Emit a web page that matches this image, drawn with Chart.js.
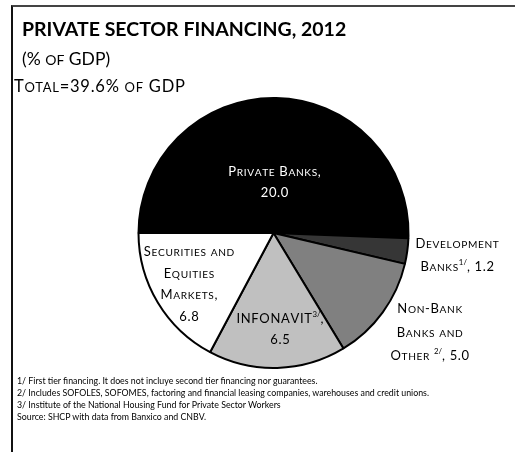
<!DOCTYPE html>
<html>
<head>
<meta charset="utf-8">
<script src="https://cdn.jsdelivr.net/npm/chart.js@4.4.0/dist/chart.umd.min.js"></script>
<style>
  body { margin: 0; background: #fff; }
  #wrap { position: relative; width: 515px; height: 452px; overflow: hidden; font-family: Lato, sans-serif; color: #000; }
  #chart { position: absolute; left: 0; top: 0; }
  .frame { position: absolute; left: 11px; top: 5px; right: 0; bottom: 0; border-top: 2px solid #444; border-left: 2px solid #111; }
  .txt { position: absolute; white-space: nowrap; line-height: 1.2; }
  .sc { font-variant: small-caps; font-size: 1.14em; line-height: 0; }
  #title { left: 22px; top: 16.5px; font-size: 19.5px; font-weight: bold; }
  #unit { left: 22px; top: 48px; font-size: 17.5px; }
  #total { left: 14px; top: 77px; font-size: 16.5px; letter-spacing: 0.75px; }
  .note { left: 17px; font-size: 8.8px; }
</style>
</head>
<body>
<div id="wrap">
  <canvas id="chart" width="515" height="452"></canvas>
  <div class="frame"></div>
  <div class="txt" id="title">PRIVATE SECTOR FINANCING, 2012</div>
  <div class="txt" id="unit">(% <span class="sc">of</span> GDP)</div>
  <div class="txt" id="total">T<span class="sc">otal</span>=39.6% <span class="sc">of</span> GDP</div>
  <div class="txt note" style="top:376px">1/ First tier financing. It does not incluye second tier financing nor guarantees.</div>
  <div class="txt note" style="top:388px">2/ Includes SOFOLES, SOFOMES, factoring and financial leasing companies, warehouses and credit unions.</div>
  <div class="txt note" style="top:400px">3/ Institute of the National Housing Fund for Private Sector Workers</div>
  <div class="txt note" style="top:412px">Source: SHCP with data from Banxico and CNBV.</div>
</div>
<script>
// Private sector financing by source, 2012 (% of GDP)
const categories = ["Private Banks", "Development Banks", "Non-Bank Banks and Other", "INFONAVIT", "Securities and Equities Markets"];
const shares = [20.0, 1.2, 5.0, 6.5, 6.8];
const sliceColors = ["#000000", "#363636", "#808080", "#c0c0c0", "#ffffff"];

// label lines per slice; {..} is a superscript note mark, %v is the value
const labelLines = [
    ["Private Banks,", "%v"],
    ["Development", "Banks{1/}, %v"],
    ["Non-Bank", "Banks and", "Other {2/}, %v"],
    ["INFONAVIT{3/},", "%v"],
    ["Securities and", "Equities", "Markets,", "%v"],
];
const labelColors = ["#fff", "#000", "#000", "#000", "#000"];
// where each label sits: fraction of the radius along the slice middle, plus a small angle nudge
const labelPlace = [
    { r: 0.38, da: 0 },
    { r: 1.37, da: -0.018 },
    { r: 1.37, da: -0.064 },
    { r: 0.71, da: -0.04 },
    { r: 0.73, da: 0 },
];

const FONT = "Lato, sans-serif";
const TRACK = 0.65;

function capsParts(line, size) {
    const parts = [];
    line.split(/(\{[^}]*\})/).filter(Boolean).forEach(seg => {
        if (seg[0] === "{") {
            parts.push({ t: seg.slice(1, -1), s: size * 0.6, dy: -size * 0.45, sp: 0 });
            return;
        }
        seg.match(/[a-z]+|[^a-z]+/g).forEach(run => {
            const low = /[a-z]/.test(run[0]);
            parts.push({ t: low ? run.toUpperCase() : run, s: low ? size * 0.78 : size, dy: 0, sp: TRACK });
        });
    });
    return parts;
}

// small caps drawn letter by letter so the tracking is even
function drawCapsLine(ctx, line, cx, cy, size) {
    const parts = capsParts(line, size);
    let total = 0;
    parts.forEach(p => {
        ctx.font = `${p.s}px ${FONT}`;
        p.ws = [...p.t].map(ch => ctx.measureText(ch).width + p.sp);
        total += p.ws.reduce((a, b) => a + b, 0);
    });
    total -= TRACK;
    let x = cx - total / 2;
    const base = cy + size * 0.36;
    parts.forEach(p => {
        ctx.font = `${p.s}px ${FONT}`;
        [...p.t].forEach((ch, k) => {
            ctx.fillText(ch, x, base + p.dy);
            x += p.ws[k];
        });
    });
}

const sliceLabels = {
    id: "sliceLabels",
    afterDatasetsDraw(chart) {
        const ctx = chart.ctx;
        const arcs = chart.getDatasetMeta(0).data;
        ctx.save();
        ctx.textAlign = "left";
        ctx.textBaseline = "alphabetic";
        arcs.forEach((arc, i) => {
            const { x, y, startAngle, endAngle, outerRadius } = arc.getProps(["x", "y", "startAngle", "endAngle", "outerRadius"], true);
            const mid = (startAngle + endAngle) / 2 + labelPlace[i].da;
            const dist = outerRadius * labelPlace[i].r;
            const cx = x + Math.cos(mid) * dist;
            const cy = y + Math.sin(mid) * dist;
            const lines = labelLines[i].map(l => l.replace("%v", shares[i].toFixed(1)));
            const lh = labelPlace[i].r > 1 ? 23.5 : 21.5;
            const top = cy - (lines.length - 1) * lh / 2;
            ctx.fillStyle = labelColors[i];
            lines.forEach((l, j) => drawCapsLine(ctx, l, cx, top + j * lh, 13));
        });
        ctx.restore();
    }
};

new Chart(document.getElementById("chart"), {
    type: "pie",
    data: {
        labels: categories,
        datasets: [{
            data: shares,
            backgroundColor: sliceColors,
            borderColor: "#000",
            borderWidth: 2,
        }],
    },
    options: {
        responsive: false,
        animation: false,
        rotation: -90,
        radius: 135,
        layout: { padding: { left: 130, right: 98, top: 90, bottom: 76 } },
        plugins: {
            legend: { display: false },
            tooltip: { enabled: false },
            title: { display: false },
        },
    },
    plugins: [sliceLabels],
});
</script>
</body>
</html>
